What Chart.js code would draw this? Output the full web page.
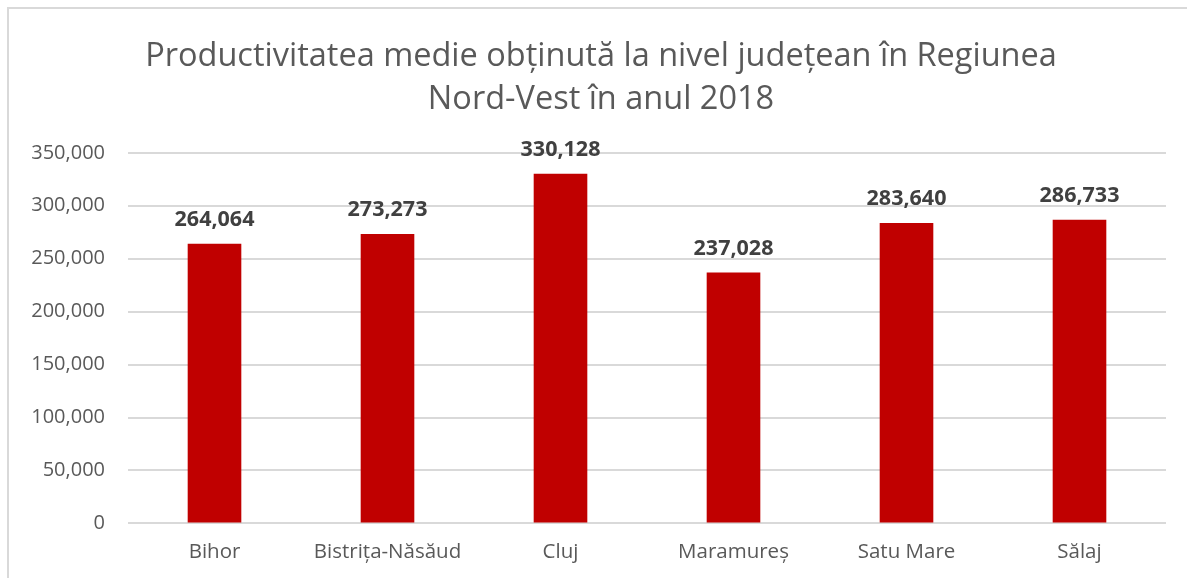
<!DOCTYPE html>
<html>
<head>
<meta charset="utf-8">
<script src="https://cdn.jsdelivr.net/npm/chart.js@4"></script>
<style>
  html, body { margin: 0; padding: 0; background: #fff; }
  #wrap { width: 1187px; height: 578px; position: relative; }
</style>
</head>
<body>
<div id="wrap"><canvas id="barChart" width="1187" height="578"></canvas></div>
<script>
const judete = ["Bihor", "Bistrița-Năsăud", "Cluj", "Maramureș", "Satu Mare", "Sălaj"];
const productivitate = [264064, 273273, 330128, 237028, 283640, 286733];
const titlu = ["Productivitatea medie obținută la nivel județean în Regiunea", "Nord-Vest în anul 2018"];

function fmt(v) {
    return v.toLocaleString("en-US");
}

// chenarul gri al graficului
const frame = {
    id: "frame",
    beforeDraw(chart) {
        const c = chart.ctx;
        c.save();
        c.strokeStyle = "#d9d9d9";
        c.lineWidth = 2;
        c.strokeRect(8, 8, chart.width + 20, chart.height + 20);
        c.restore();
    }
};

// titlul e putin mutat spre dreapta in original
const titleShift = {
    id: "titleShift",
    afterLayout(chart) {
        const t = chart.titleBlock;
        if (t) {
            t.left += 14;
            t.right += 14;
        }
    }
};

// etichetele cu valori deasupra barelor
const valueLabels = {
    id: "valueLabels",
    afterDatasetsDraw(chart) {
        const c = chart.ctx;
        const meta = chart.getDatasetMeta(0);
        c.save();
        c.font = "bold 21.5px 'Open Sans'";
        c.fillStyle = "#404040";
        c.textAlign = "center";
        c.textBaseline = "middle";
        meta.data.forEach((bar, i) => {
            c.fillText(fmt(chart.data.datasets[0].data[i]), bar.x, bar.y - 24);
        });
        c.restore();
    }
};

function drawBarChart() {
    "use strict";
    let ctx = document.getElementById("barChart");
    new Chart(ctx, {
        type: "bar",
        data: {
            labels: judete,
            datasets: [{
                data: productivitate,
                backgroundColor: "#c00000",
                borderWidth: 0,
                barPercentage: 0.62,
                categoryPercentage: 0.5
            }]
        },
        options: {
            responsive: false,
            animation: false,
            layout: { padding: { left: 8, right: 21, top: 35, bottom: -2 } },
            plugins: {
                legend: { display: false },
                tooltip: { enabled: false },
                title: {
                    display: true,
                    text: titlu,
                    color: "#595959",
                    font: { family: "'Open Sans'", size: 32.5, weight: "normal", lineHeight: 1.32 },
                    padding: { top: 0, bottom: 32 }
                }
            },
            scales: {
                x: {
                    grid: { display: false, drawTicks: false },
                    border: { display: false },
                    ticks: { color: "#595959", font: { family: "'Open Sans'", size: 20.5 }, padding: 16 }
                },
                y: {
                    min: 0,
                    max: 350000,
                    grid: { color: "#d9d9d9", lineWidth: 2, drawTicks: false },
                    border: { display: false },
                    afterFit: (scale) => { scale.width = 120; },
                    ticks: {
                        stepSize: 50000,
                        color: "#595959",
                        font: { family: "'Open Sans'", size: 20 },
                        padding: 23,
                        callback: (v) => fmt(v)
                    }
                }
            }
        },
        plugins: [frame, titleShift, valueLabels]
    });
}
drawBarChart();
</script>
</body>
</html>
